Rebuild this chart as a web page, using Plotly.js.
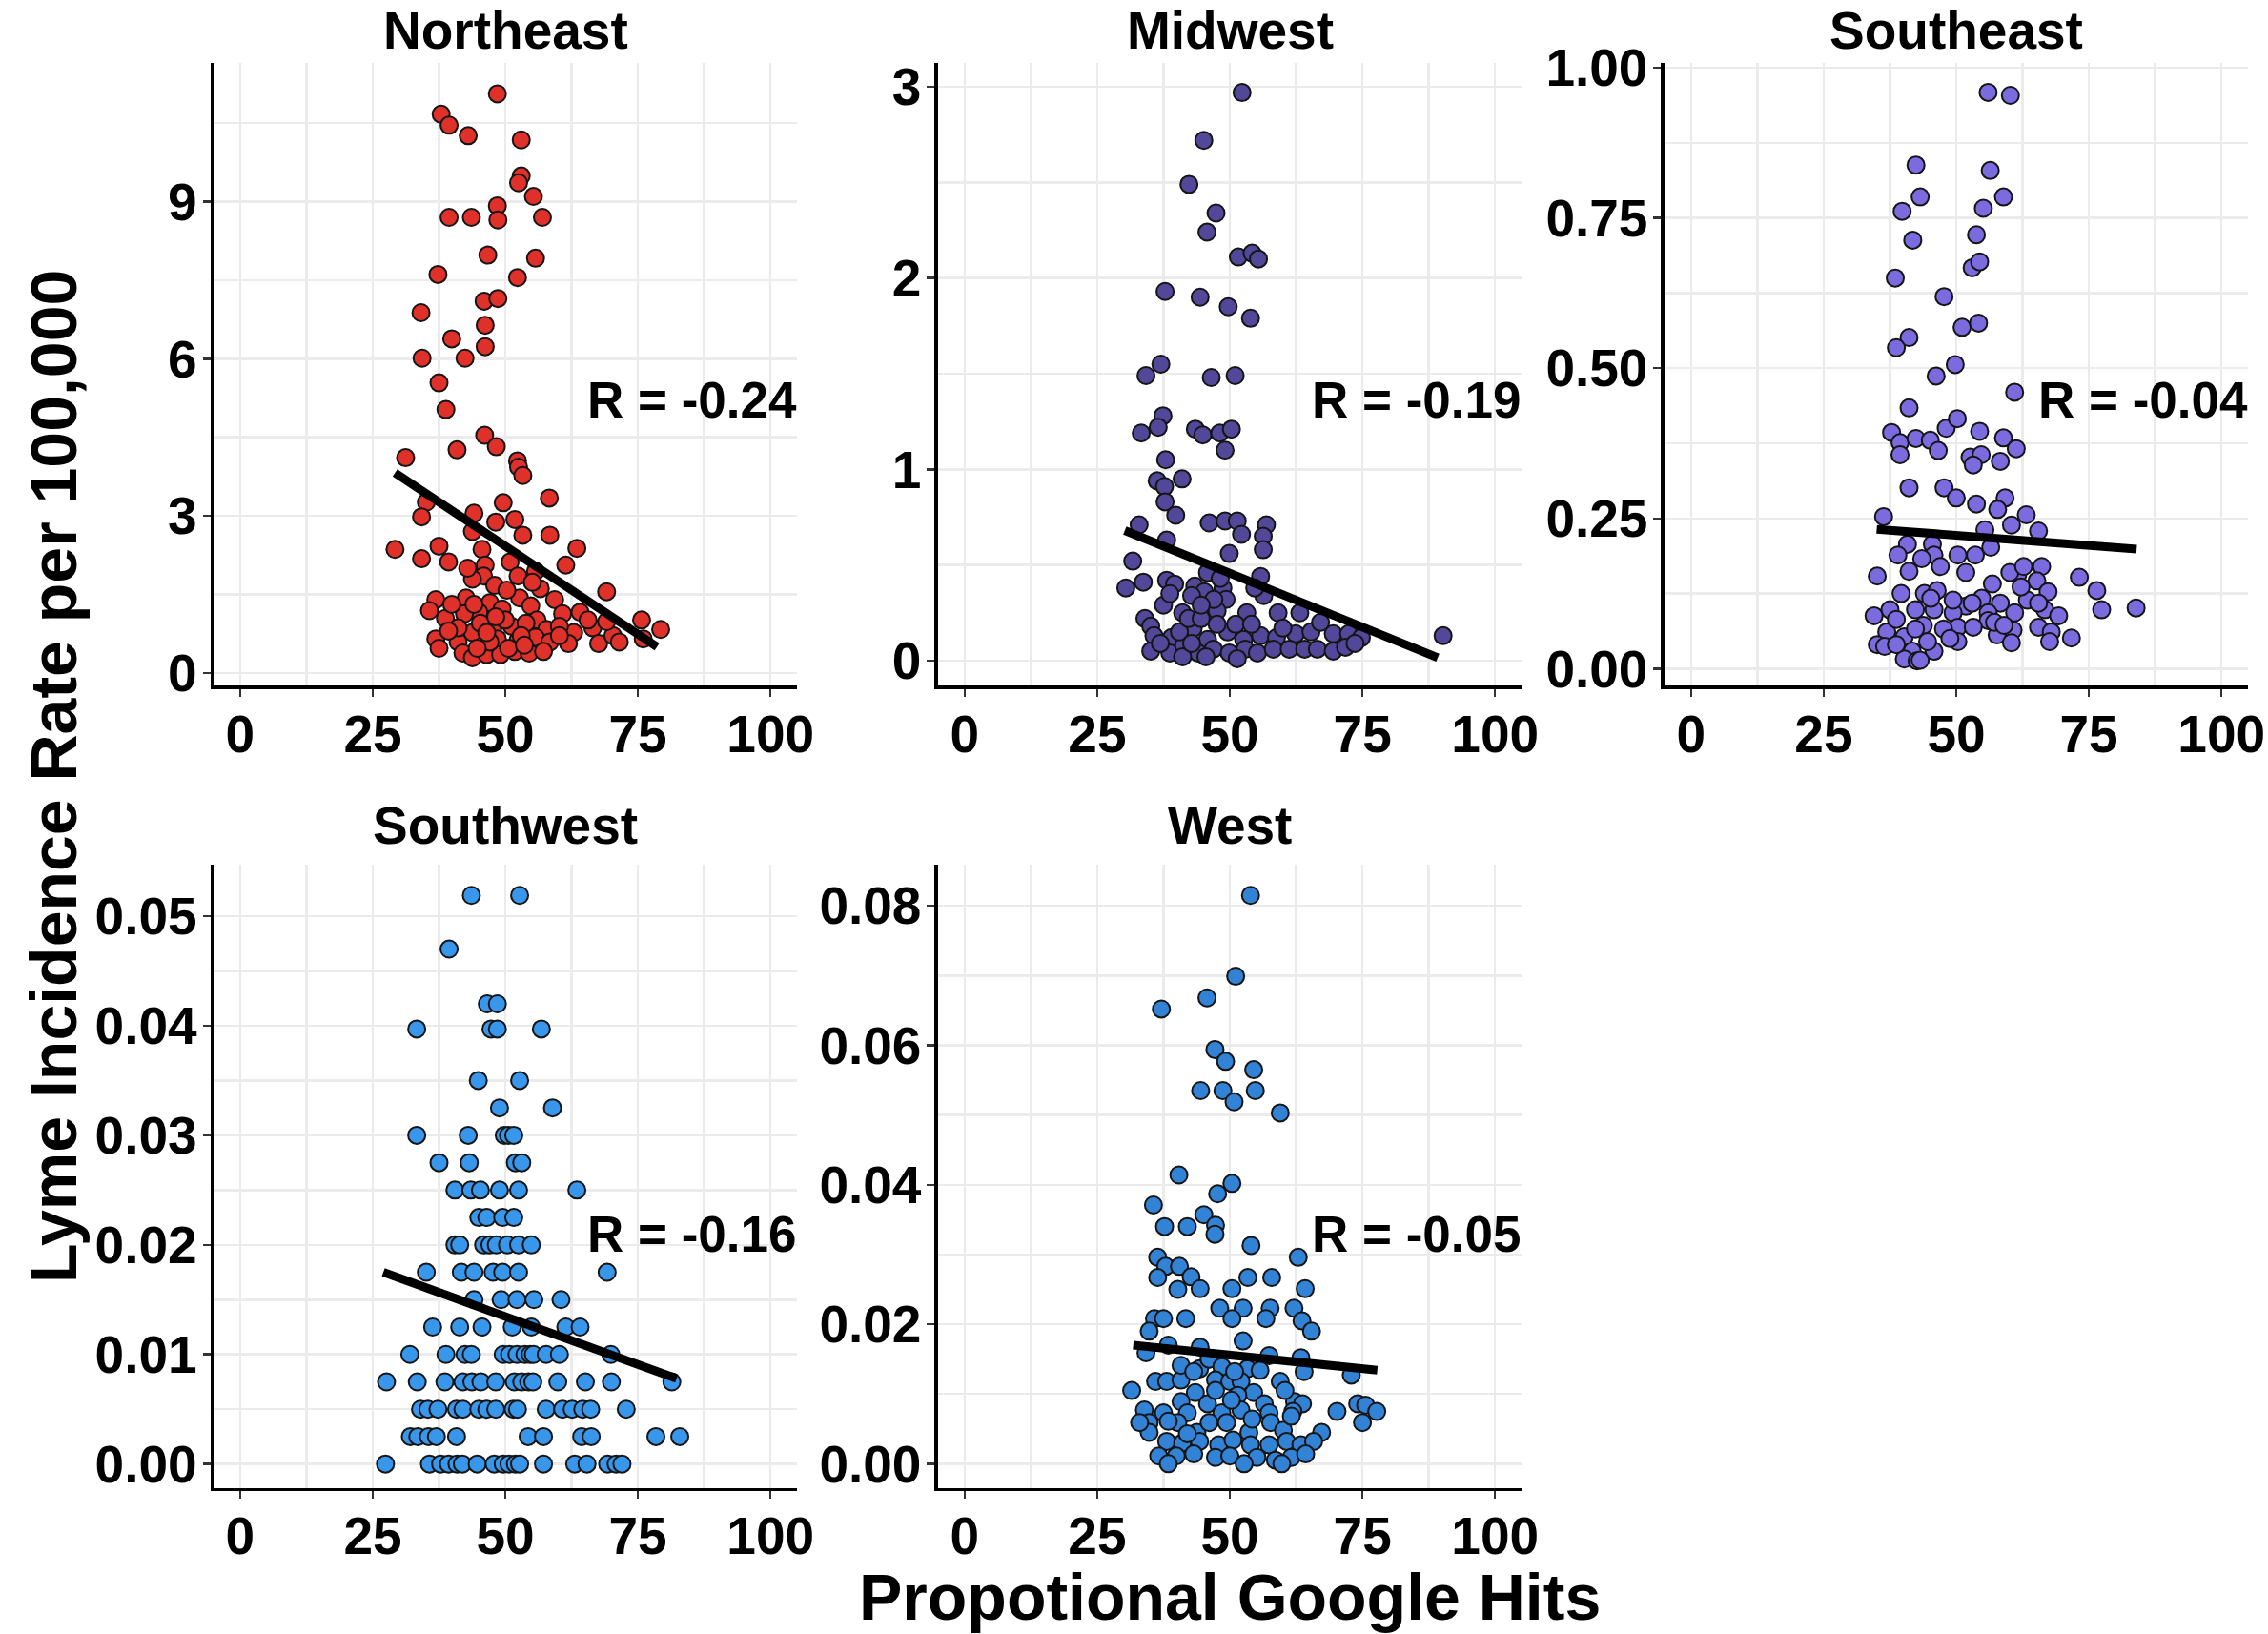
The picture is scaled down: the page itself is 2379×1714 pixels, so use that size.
<!DOCTYPE html>
<html>
<head>
<meta charset="utf-8">
<script src="https://cdn.plot.ly/plotly-3.0.1.min.js"></script>
<style>html,body{margin:0;padding:0;background:#fff;}#chart{width:2379px;height:1714px;}</style>
</head>
<body>
<div id="chart"></div>
<script>
// ---------------- DATA ----------------
const regions = ["Northeast", "Midwest", "Southeast", "Southwest", "West"];
const rLabels = ["R = -0.24", "R = -0.19", "R = -0.04", "R = -0.16", "R = -0.05"];
const xTickVals = [0, 25, 50, 75, 100];
const xTickText = ["0", "25", "50", "75", "100"];

const neTickVals = [0, 3, 6, 9];
const neTickText = ["0", "3", "6", "9"];
const mwTickVals = [0, 1, 2, 3];
const mwTickText = ["0", "1", "2", "3"];
const seTickVals = [0, 0.25, 0.5, 0.75, 1.0];
const seTickText = ["0.00", "0.25", "0.50", "0.75", "1.00"];
const swTickVals = [0, 0.01, 0.02, 0.03, 0.04, 0.05];
const swTickText = ["0.00", "0.01", "0.02", "0.03", "0.04", "0.05"];
const wTickVals = [0, 0.02, 0.04, 0.06, 0.08];
const wTickText = ["0.00", "0.02", "0.04", "0.06", "0.08"];

// Northeast points [google hits, incidence]
const northeastPoints = [
[48.5,11.06],[37.9,10.67],[39.4,10.46],[43.0,10.26],[53.0,10.18],[53.0,9.49],[52.5,9.36],[55.3,9.10],
[48.5,8.92],[39.4,8.70],[43.6,8.70],[48.6,8.65],[57.0,8.70],[46.7,7.98],[55.7,7.92],[37.3,7.61],
[52.3,7.55],[46.0,7.10],[48.6,7.15],[34.1,6.88],[46.2,6.64],[39.9,6.38],[46.2,6.23],[34.3,6.01],
[42.4,6.01],[37.5,5.54],[38.8,5.03],[46.1,4.54],[48.3,4.32],[40.9,4.26],[31.2,4.11],[52.3,4.05],
[52.5,3.93],[53.3,3.77],[58.3,3.34],[35.1,3.26],[49.6,3.25],[29.2,2.36],
[34.2,2.98],[44.1,3.05],[48.2,2.88],[51.8,2.93],[53.3,2.63],[58.4,2.63],[43.8,2.70],[37.5,2.42],
[34.2,2.18],[39.3,2.12],[63.5,2.38],[61.4,2.06],[45.6,2.36],[46.2,2.06],[50.9,2.12],[52.4,1.85],
[55.7,1.94],[45.9,1.85],[43.8,1.79],[48.0,1.67],[69.1,1.55],[36.9,1.40],[35.7,1.19],[42.6,1.43],
[47.1,1.34],[52.7,1.43],[45.0,1.16],[49.4,1.22],[54.8,1.28],[59.3,1.40],[38.7,1.04],[42.3,1.13],
[56.0,1.01],[60.8,1.13],[64.1,1.16],[75.7,1.01],[79.3,0.83],[66.5,0.86],[57.8,0.83],[62.9,0.77],
[60.2,0.89],[43.8,0.77],[47.6,0.83],[51.2,0.89],[53.9,0.95],[36.9,0.65],[37.5,0.47],[41.1,0.59],
[48.5,0.65],[52.4,0.62],[55.7,0.68],[58.4,0.59],[61.9,0.56],[67.6,0.56],[70.3,0.71],[76.0,0.65],
[42.0,0.38],[43.8,0.29],[46.5,0.35],[49.1,0.35],[51.8,0.41],[54.5,0.38],[57.2,0.41],[47.1,0.59],
[41.1,0.86],[45.3,0.95],[50.0,1.01],[46.5,0.77],[53.0,0.71],[60.2,0.71],[39.9,1.31],[56.6,1.61],
[50.3,1.58],[42.9,2.00],[55.1,1.73],[65.6,1.01],[69.1,0.98],[71.5,0.59],[39.3,0.80],[44.7,0.47],
[50.6,0.47],[53.6,0.53],[48.2,1.07],[44.1,1.31]
];

const midwestPoints = [
[52.3,2.97],[45.1,2.72],[42.3,2.49],[47.4,2.34],[45.7,2.24],[51.6,2.11],[54.2,2.13],[55.4,2.10],
[37.8,1.93],[44.4,1.90],[49.7,1.85],[53.9,1.79],[37.0,1.55],[34.2,1.49],[46.5,1.48],[51.0,1.49],
[37.4,1.28],[33.3,1.19],[36.5,1.22],[43.5,1.21],[44.9,1.18],[48.1,1.19],[50.3,1.21],[49.1,1.10],
[37.9,1.05],[36.3,0.94],[37.7,0.91],[41.0,0.95],[37.8,0.83],[39.8,0.76],[32.9,0.71],[46.1,0.72],
[49.1,0.73],[51.4,0.73],[52.2,0.66],[56.9,0.71],[56.3,0.65],[56.3,0.58],[31.7,0.52],[90.2,0.13],
[49.9,0.56],
[38.1,0.63],[30.4,0.38],[33.7,0.41],[38.1,0.42],[39.6,0.40],[45.8,0.46],[43.4,0.39],[45.2,0.36],
[48.7,0.38],[49.3,0.32],[55.8,0.44],[56.4,0.34],[54.7,0.38],[37.5,0.29],[41.1,0.25],[47.6,0.26],
[53.2,0.25],[59.1,0.25],[63.2,0.25],[34.0,0.22],[35.1,0.18],[35.7,0.13],[39.0,0.12],[43.1,0.17],
[45.8,0.11],[49.6,0.15],[52.6,0.11],[55.8,0.13],[58.8,0.12],[62.4,0.14],[65.3,0.15],[67.1,0.20],
[69.5,0.14],[72.4,0.14],[74.8,0.12],[35.1,0.05],[38.7,0.04],[41.3,0.08],[44.0,0.04],[46.9,0.06],
[49.9,0.04],[52.9,0.06],[55.2,0.04],[58.2,0.06],[61.2,0.06],[64.1,0.06],[66.5,0.06],[69.5,0.05],
[71.8,0.07],[73.6,0.09],[36.9,0.09],[40.5,0.15],[42.2,0.22],[44.6,0.22],[51.1,0.19],[54.1,0.19],
[47.6,0.19],[41.1,0.02],[45.5,0.02],[51.4,0.01],[42.8,0.09],[60.0,0.17],[38.7,0.35],[47.0,0.32],
[42.8,0.34],[44.6,0.29],[48.2,0.43]
];

const southeastPoints = [
[56.0,0.959],[60.2,0.954],[42.4,0.838],[56.4,0.829],[43.2,0.785],[58.9,0.785],[39.8,0.761],[55.1,0.766],
[41.8,0.713],[53.8,0.722],[53.0,0.667],[54.4,0.677],[38.5,0.650],[47.7,0.619],[51.1,0.568],[54.2,0.575],
[41.1,0.551],[38.7,0.534],[46.2,0.487],[49.8,0.506],[61.0,0.460],[41.1,0.434],[37.8,0.393],[39.4,0.376],
[42.4,0.383],[45.1,0.380],[48.1,0.400],[50.2,0.416],[46.6,0.363],[39.4,0.356],[54.4,0.395],[58.9,0.384],
[61.3,0.366],[52.6,0.352],[54.7,0.356],[53.2,0.339],[58.3,0.345],[41.1,0.301],[47.7,0.301],[50.0,0.284],
[53.8,0.274],[59.2,0.284],[57.8,0.265],[63.2,0.256],[36.3,0.253],[60.4,0.239],[65.5,0.229],
[55.4,0.231],[40.8,0.207],[39.0,0.189],[45.5,0.207],[45.8,0.189],[43.5,0.183],[47.0,0.170],[50.3,0.189],
[53.6,0.189],[56.5,0.202],[51.8,0.160],[35.1,0.154],[41.1,0.162],[44.0,0.125],[46.4,0.130],[39.6,0.125],
[61.6,0.157],[60.1,0.160],[66.1,0.170],[65.2,0.146],[62.7,0.170],[56.8,0.141],[73.2,0.152],[76.5,0.130],
[77.4,0.098],[83.9,0.101],[67.3,0.128],[63.4,0.114],[54.8,0.117],[58.3,0.109],[37.5,0.098],[42.3,0.098],
[45.8,0.098],[51.8,0.104],[56.0,0.093],[61.0,0.093],[66.7,0.098],[69.3,0.088],[34.5,0.088],[43.8,0.072],
[49.4,0.093],[50.3,0.069],[56.0,0.080],[60.7,0.064],[65.5,0.069],[67.9,0.061],[71.7,0.051],[36.9,0.061],
[40.2,0.053],[35.1,0.040],[36.5,0.037],[41.7,0.029],[40.2,0.016],[42.6,0.013],[45.8,0.029],[50.3,0.045],
[53.2,0.069],[57.7,0.056],[60.4,0.043],[67.6,0.045],[47.6,0.066],[44.6,0.045],[48.8,0.050],[57.2,0.077],
[53.0,0.109],[49.4,0.114],[45.2,0.117],[38.7,0.082],[62.2,0.136],[59.0,0.072],[65.5,0.109],[42.3,0.066],
[38.7,0.040],[43.2,0.014]
];

const southwestPoints = [
[43.6,0.0519],[52.7,0.0519],[39.4,0.0470],[46.6,0.0420],[48.5,0.0420],
[33.3,0.0397],[47.3,0.0397],[48.5,0.0397],[56.8,0.0397],[44.9,0.0350],[52.7,0.0350],[48.9,0.0325],[58.9,0.0325],
[33.3,0.030],[43.0,0.030],[49.8,0.030],[50.6,0.030],[51.6,0.030],
[37.5,0.0275],[43.2,0.0275],[51.9,0.0275],[53.1,0.0275],
[40.5,0.025],[43.5,0.025],[45.3,0.025],[48.9,0.025],[52.5,0.025],[63.5,0.025],
[45.0,0.0225],[46.5,0.0225],[49.5,0.0225],[51.6,0.0225],
[40.5,0.020],[41.4,0.020],[45.9,0.020],[47.1,0.020],[48.3,0.020],[50.4,0.020],[52.5,0.020],[54.9,0.020],
[35.1,0.0175],[41.7,0.0175],[44.1,0.0175],[47.7,0.0175],[49.5,0.0175],[52.5,0.0175],[69.2,0.0175],
[44.1,0.015],[49.2,0.015],[52.2,0.015],[55.4,0.015],[60.5,0.015],
[36.3,0.0125],[41.4,0.0125],[45.6,0.0125],[51.3,0.0125],[54.9,0.0125],[61.4,0.0125],[64.1,0.0125],
[32.0,0.010],[38.8,0.010],[42.4,0.010],[43.6,0.010],[49.6,0.010],[50.8,0.010],[52.2,0.010],[53.7,0.010],
[54.7,0.010],[55.3,0.010],[57.7,0.010],[60.2,0.010],[69.9,0.010],
[27.6,0.0075],[33.4,0.0075],[38.6,0.0075],[42.0,0.0075],[43.7,0.0075],[45.4,0.0075],[48.2,0.0075],[51.7,0.0075],
[53.1,0.0075],[54.4,0.0075],[55.2,0.0075],[59.9,0.0075],[65.1,0.0075],[70.0,0.0075],[81.4,0.0075],
[34.0,0.005],[35.4,0.005],[37.3,0.005],[40.8,0.005],[42.0,0.005],[45.0,0.005],[46.5,0.005],[48.2,0.005],
[51.5,0.005],[52.3,0.005],[57.7,0.005],[60.8,0.005],[62.6,0.005],[64.6,0.005],[66.1,0.005],[72.8,0.005],
[32.1,0.0025],[33.5,0.0025],[35.5,0.0025],[37.0,0.0025],[40.8,0.0025],[54.3,0.0025],[57.2,0.0025],[64.4,0.0025],
[66.2,0.0025],[78.4,0.0025],[82.9,0.0025],
[27.4,0.0],[35.7,0.0],[37.8,0.0],[39.3,0.0],[40.9,0.0],[41.9,0.0],[44.7,0.0],[47.9,0.0],[49.6,0.0],
[50.7,0.0],[51.9,0.0],[52.7,0.0],[57.2,0.0],[63.1,0.0],[65.4,0.0],[69.3,0.0],[70.9,0.0],[72.0,0.0]
];

const westPoints = [
[53.9,0.0815],[51.1,0.0699],[45.7,0.0668],[37.1,0.0652],[47.2,0.0594],[49.2,0.0577],[54.5,0.0565],
[44.5,0.0535],[48.7,0.0535],[50.8,0.0519],[54.8,0.0535],[59.5,0.0503],[40.4,0.0414],[50.4,0.0402],
[47.7,0.0387],[35.6,0.0371],[45.1,0.0357],[47.3,0.0342],[37.7,0.0340],[42.0,0.0340],[47.2,0.0329],
[54.0,0.0313],[62.9,0.0296],[36.4,0.0296],[37.9,0.0283],[40.5,0.0283],[36.4,0.0267],[42.7,0.0268],
[44.4,0.0251],[40.2,0.0250],[53.4,0.0267],[57.9,0.0267],[50.4,0.0251],[64.2,0.0251],[48.1,0.0223],
[52.5,0.0223],[57.6,0.0223],[62.1,0.0223],[63.6,0.0205],[65.4,0.0190],[35.8,0.0208],[37.5,0.0208],
[41.7,0.0208],[50.4,0.0208],[56.8,0.0208],[34.8,0.0190],[52.5,0.0176],[44.4,0.0167],
[34.2,0.0159],[38.4,0.0170],[63.4,0.0152],[72.9,0.0127],[44.3,0.0136],[46.1,0.0150],[48.5,0.0139],
[53.3,0.0136],[55.7,0.0134],[36.0,0.0118],[38.1,0.0118],[40.8,0.0120],[47.3,0.0120],[50.0,0.0118],
[52.1,0.0118],[59.5,0.0118],[31.5,0.0105],[43.5,0.0102],[54.5,0.0102],[40.8,0.0089],[45.8,0.0086],
[51.5,0.0098],[56.5,0.0086],[62.2,0.0089],[63.7,0.0086],[33.9,0.0077],[37.5,0.0073],[42.0,0.0073],
[48.5,0.0073],[52.1,0.0077],[57.4,0.0073],[61.9,0.0075],[70.2,0.0075],[74.1,0.0086],[75.6,0.0084],
[77.7,0.0075],[75.0,0.0059],[34.8,0.0059],[40.2,0.0059],[43.8,0.0045],[46.1,0.0059],[49.4,0.0059],
[53.6,0.0045],[57.7,0.0059],[60.1,0.0048],[67.3,0.0045],[34.8,0.0045],[38.1,0.0032],[41.1,0.0030],
[44.3,0.0032],[47.9,0.0027],[50.6,0.0034],[53.9,0.0027],[57.4,0.0027],[60.7,0.0032],[63.4,0.0027],
[65.8,0.0032],[36.6,0.0011],[39.9,0.0011],[43.2,0.0014],[47.3,0.0009],[50.0,0.0011],[55.1,0.0009],
[58.6,0.0005],[61.6,0.0009],[64.3,0.0014],[38.4,0.0000],[52.7,0.0000],[59.8,0.0000],[42.0,0.0043],
[38.4,0.0061],[47.3,0.0105],[50.9,0.0132],[40.8,0.0141],[57.4,0.0155],[43.2,0.0132],[64.0,0.0132],
[60.4,0.0105],[33.0,0.0059],[50.3,0.0091],[54.2,0.0064],[61.6,0.0068]
];

// fitted regression lines (endpoints)
const neFitX = [29.2, 78.6], neFitY = [3.82, 0.50];
const mwFitX = [30.2, 89.2], mwFitY = [0.68, 0.015];
const seFitX = [35.0, 84.0], seFitY = [0.232, 0.199];
const swFitX = [27.0, 82.3], swFitY = [0.0175, 0.0078];
const wFitX  = [31.8, 77.8], wFitY  = [0.0170, 0.0134];

// ---------------- STYLE ----------------
const FONT = "Liberation Sans, Arial, Helvetica, sans-serif";
const fills = ["#E0302A", "#524799", "#7C6ADF", "#3896EB", "#3283D6"];
const allPoints = [northeastPoints, midwestPoints, southeastPoints, southwestPoints, westPoints];
const fitsX = [neFitX, mwFitX, seFitX, swFitX, wFitX];
const fitsY = [neFitY, mwFitY, seFitY, swFitY, wFitY];
const yTickVals = [neTickVals, mwTickVals, seTickVals, swTickVals, wTickVals];
const yTickText = [neTickText, mwTickText, seTickText, swTickText, wTickText];
const yMinorStep = [1.5, 0.5, 0.125, 0.005, 0.01];
const yRanges = [[-0.24, 11.65], [-0.13, 3.125], [-0.028, 1.008], [-0.0022, 0.0547], [-0.0035, 0.0859]];

const xDomains = [[0.0942, 0.3514], [0.4136, 0.6709], [0.7339, 0.9912], [0.0942, 0.3514], [0.4136, 0.6709]];
const topRow = [0.5805, 0.9615], botRow = [0.0893, 0.4708];
const yDomains = [topRow, topRow, topRow, botRow, botRow];

function gridVals(lo, hi, step) {
  const out = [];
  for (let k = Math.ceil(lo / step - 1e-9); k * step <= hi + 1e-12; k++) out.push(+(k * step).toFixed(6));
  return out;
}

const traces = [];
const layout = {
  width: 2379, height: 1714,
  margin: {l: 0, r: 0, t: 0, b: 0},
  paper_bgcolor: "#ffffff", plot_bgcolor: "#ffffff",
  showlegend: false,
  font: {family: FONT, color: "#000", size: 54, weight: "bold"},
  annotations: []
};

for (let i = 0; i < 5; i++) {
  const xa = i === 0 ? "x" : "x" + (i + 1);
  const ya = i === 0 ? "y" : "y" + (i + 1);
  traces.push({
    type: "scatter", mode: "markers",
    x: allPoints[i].map(p => p[0]), y: allPoints[i].map(p => p[1]),
    xaxis: xa, yaxis: ya,
    marker: {size: 18, color: fills[i], line: {color: "#151515", width: 2}},
    cliponaxis: false, hoverinfo: "skip"
  });
  traces.push({
    type: "scatter", mode: "lines",
    x: fitsX[i], y: fitsY[i], xaxis: xa, yaxis: ya,
    line: {color: "#000", width: 9}, hoverinfo: "skip"
  });
  const common = {
    showline: true, linecolor: "#000", linewidth: 3.5,
    ticks: "outside", ticklen: 8, tickwidth: 2.5, tickcolor: "#333",
    showgrid: true, gridcolor: "#EBEBEB", gridwidth: 2.5,
    zeroline: false,
    tickfont: {family: FONT, size: 55, color: "#000", weight: "bold"},
    tickmode: "array", fixedrange: true
  };
  layout["xaxis" + (i === 0 ? "" : i + 1)] = Object.assign({}, common, {
    domain: xDomains[i], anchor: ya, range: [-5, 105],
    tickvals: xTickVals, ticktext: xTickText,
    minor: {tickmode: "array", tickvals: gridVals(0, 100, 12.5), showgrid: true, gridcolor: "#EBEBEB", gridwidth: 2.5, ticks: ""},
    ticklabelstandoff: -8
  });
  layout["yaxis" + (i === 0 ? "" : i + 1)] = Object.assign({}, common, {
    domain: yDomains[i], anchor: xa, range: yRanges[i],
    tickvals: yTickVals[i], ticktext: yTickText[i],
    minor: {tickmode: "array", tickvals: gridVals(0, yRanges[i][1], yMinorStep[i]), showgrid: true, gridcolor: "#EBEBEB", gridwidth: 2.5, ticks: ""},
    ticklabelstandoff: -5
  });
  // panel title
  layout.annotations.push({
    text: regions[i], xref: xa + " domain", x: 0.5, yref: "paper",
    y: i < 3 ? 1.0 : 0.5135, xanchor: "center", yanchor: "top", borderpad: 0,
    showarrow: false, font: {family: FONT, size: 55, color: "#000", weight: "bold"}
  });
  // correlation label
  layout.annotations.push({
    text: rLabels[i], xref: xa + " domain", x: 0.82, yref: ya + " domain",
    y: i < 3 ? 0.459 : 0.407, xanchor: "center", yanchor: "middle",
    showarrow: false, font: {family: FONT, size: 53, color: "#000", weight: "bold"}
  });
}

layout.annotations.push({
  text: "Propotional Google Hits", xref: "paper", yref: "paper", x: 0.5423, y: 0.0,
  xanchor: "center", yanchor: "bottom", borderpad: 0, showarrow: false,
  font: {family: FONT, size: 68, color: "#000", weight: "bold"}
});
layout.annotations.push({
  text: "Lyme Incidence Rate per 100,000", xref: "paper", yref: "paper", x: 0.0235, y: 0.525,
  xanchor: "center", yanchor: "middle", textangle: -90, showarrow: false,
  font: {family: FONT, size: 68, color: "#000", weight: "bold"}
});

Plotly.newPlot("chart", traces, layout, {staticPlot: true, displayModeBar: false});
</script>
</body>
</html>
